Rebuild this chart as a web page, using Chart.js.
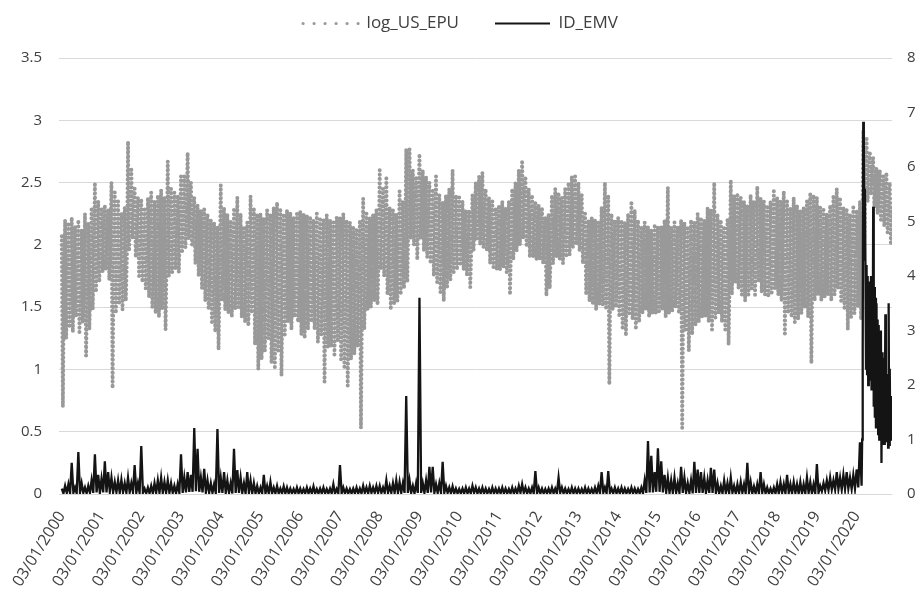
<!DOCTYPE html>
<html><head><meta charset="utf-8">
<script src="https://cdn.jsdelivr.net/npm/chart.js@4.4.1/dist/chart.umd.min.js"></script>
<style>html,body{margin:0;padding:0;background:#fff;}canvas{display:block;}</style>
</head><body>
<canvas id="c" width="921" height="597" style="width:921px;height:597px"></canvas>
<script>
// ---- data -------------------------------------------------------------
const seriesNames = ['log_US_EPU', 'ID_EMV'];
const tickYears = [2000,2001,2002,2003,2004,2005,2006,2007,2008,2009,2010,2011,2012,2013,2014,2015,2016,2017,2018,2019,2020];
const tickLabels = ['03/01/2000','03/01/2001','03/01/2002','03/01/2003','03/01/2004','03/01/2005','03/01/2006','03/01/2007','03/01/2008','03/01/2009','03/01/2010','03/01/2011','03/01/2012','03/01/2013','03/01/2014','03/01/2015','03/01/2016','03/01/2017','03/01/2018','03/01/2019','03/01/2020'];

// log_US_EPU: three readings per month (high swing, low swing, typical), Jan 2000 - Nov 2020
const epuStart = 2000;
const epuStep = 1 / 36;
const epuValues = [
// 2000
2.07,0.70,1.75, 2.20,1.25,1.70, 2.18,1.35,1.65, 2.22,1.30,1.75, 2.15,1.42,1.70, 2.20,1.30,1.65,
2.12,1.38,1.70, 2.25,1.11,1.60, 2.18,1.32,1.72, 2.30,1.48,1.85, 2.50,1.62,1.95, 2.35,1.70,2.00,
// 2001
2.30,1.78,2.05, 2.32,1.80,2.00, 2.28,1.72,1.95, 2.50,0.85,1.90, 2.42,1.45,1.85, 2.35,1.52,1.90,
2.25,1.48,1.85, 2.30,1.55,1.90, 2.83,1.95,2.35, 2.62,2.05,2.30, 2.45,1.90,2.15, 2.38,1.75,2.05,
// 2002
2.37,1.70,2.00, 2.30,1.65,1.95, 2.38,1.58,1.90, 2.42,1.50,1.85, 2.35,1.45,1.90, 2.40,1.42,1.95,
2.44,1.48,1.95, 2.38,1.32,1.90, 2.67,1.75,2.10, 2.45,1.78,2.10, 2.42,1.80,2.10, 2.40,1.78,2.10,
// 2003
2.55,1.95,2.20, 2.55,1.98,2.25, 2.74,2.05,2.35, 2.50,2.00,2.25, 2.38,1.85,2.10, 2.32,1.75,2.00,
2.28,1.65,1.95, 2.30,1.55,1.90, 2.25,1.48,1.85, 2.20,1.38,1.80, 2.18,1.30,1.75, 2.15,1.16,1.75,
// 2004
2.48,1.55,1.85, 2.30,1.48,1.80, 2.25,1.45,1.75, 2.20,1.42,1.75, 2.28,1.48,1.80, 2.38,1.50,1.85,
2.25,1.42,1.75, 2.15,1.38,1.72, 2.18,1.35,1.75, 2.39,1.45,1.80, 2.30,1.20,1.70, 2.25,1.00,1.65,
// 2005
2.25,1.08,1.65, 2.22,1.15,1.70, 2.28,1.25,1.70, 2.25,1.05,1.65, 2.30,1.02,1.65, 2.34,1.15,1.70,
2.28,0.95,1.65, 2.25,1.28,1.72, 2.28,1.38,1.75, 2.26,1.32,1.70, 2.22,1.42,1.75, 2.25,1.38,1.72,
// 2006
2.27,1.28,1.72, 2.25,1.25,1.70, 2.24,1.32,1.75, 2.23,1.38,1.72, 2.20,1.32,1.70, 2.25,1.22,1.68,
2.22,1.28,1.70, 2.20,0.90,1.65, 2.24,1.18,1.68, 2.20,1.18,1.65, 2.18,1.12,1.62, 2.22,1.22,1.65,
// 2007
2.22,1.08,1.62, 2.25,1.02,1.60, 2.20,0.87,1.55, 2.18,1.08,1.58, 2.15,1.12,1.60, 2.12,1.18,1.58,
2.20,0.53,1.60, 2.37,1.32,1.75, 2.25,1.48,1.85, 2.22,1.50,1.85, 2.25,1.55,1.90, 2.28,1.52,1.90,
// 2008
2.60,1.80,2.10, 2.45,1.75,2.05, 2.55,1.60,2.00, 2.30,1.48,1.90, 2.28,1.52,1.88, 2.25,1.55,1.90,
2.43,1.60,1.95, 2.35,1.65,1.95, 2.77,1.70,2.20, 2.77,2.05,2.35, 2.60,2.00,2.30, 2.55,1.88,2.25,
// 2009
2.73,2.05,2.35, 2.60,1.95,2.25, 2.55,1.90,2.25, 2.50,1.85,2.15, 2.45,1.75,2.10, 2.55,1.70,2.05,
2.40,1.62,2.00, 2.35,1.55,1.95, 2.40,1.65,2.00, 2.45,1.72,2.05, 2.60,1.78,2.10, 2.40,1.80,2.10,
// 2010
2.38,1.85,2.10, 2.35,1.80,2.05, 2.28,1.75,2.00, 2.28,1.66,1.98, 2.40,1.95,2.20, 2.50,2.05,2.25,
2.55,2.00,2.25, 2.58,1.98,2.25, 2.45,1.95,2.20, 2.38,1.85,2.10, 2.35,1.82,2.05, 2.30,1.80,2.05,
// 2011
2.32,1.80,2.05, 2.35,1.82,2.05, 2.30,1.78,2.00, 2.35,1.60,2.00, 2.45,1.88,2.15, 2.50,1.95,2.20,
2.60,2.00,2.30, 2.68,2.05,2.35, 2.55,2.00,2.25, 2.45,1.90,2.15, 2.40,1.90,2.15, 2.35,1.88,2.10,
// 2012
2.32,1.88,2.10, 2.30,1.85,2.05, 2.22,1.59,1.95, 2.25,1.65,1.95, 2.40,1.85,2.10, 2.45,1.90,2.15,
2.42,1.88,2.15, 2.38,1.85,2.10, 2.45,1.90,2.15, 2.50,1.92,2.20, 2.55,1.98,2.25, 2.55,2.00,2.25,
// 2013
2.50,1.95,2.20, 2.40,1.85,2.10, 2.25,1.60,1.95, 2.20,1.55,1.90, 2.22,1.52,1.88, 2.20,1.48,1.85,
2.18,1.52,1.85, 2.30,1.52,1.88, 2.50,1.48,1.90, 2.40,0.88,1.85, 2.25,1.48,1.85, 2.20,1.50,1.85,
// 2014
2.22,1.42,1.80, 2.20,1.32,1.78, 2.18,1.27,1.75, 2.25,1.45,1.80, 2.35,1.40,1.82, 2.28,1.32,1.78,
2.20,1.38,1.78, 2.15,1.45,1.80, 2.18,1.48,1.80, 2.15,1.42,1.78, 2.12,1.45,1.78, 2.15,1.45,1.78,
// 2015
2.15,1.45,1.78, 2.15,1.48,1.80, 2.20,1.42,1.80, 2.46,1.45,1.82, 2.15,1.47,1.80, 2.18,1.50,1.82,
2.15,1.45,1.78, 2.20,0.53,1.75, 2.18,1.32,1.72, 2.15,1.15,1.70, 2.20,1.28,1.75, 2.18,1.35,1.75,
// 2016
2.25,1.38,1.78, 2.22,1.42,1.80, 2.20,1.42,1.80, 2.30,1.38,1.80, 2.28,1.32,1.78, 2.50,1.40,1.85,
2.25,1.45,1.80, 2.20,1.38,1.78, 2.15,1.32,1.75, 2.20,1.20,1.72, 2.52,1.60,1.95, 2.40,1.70,2.00,
// 2017
2.40,1.65,2.00, 2.38,1.60,1.98, 2.35,1.55,1.95, 2.32,1.60,1.95, 2.40,1.65,2.00, 2.35,1.60,1.95,
2.47,1.70,2.00, 2.38,1.62,1.98, 2.35,1.60,1.95, 2.32,1.58,1.95, 2.35,1.60,1.95, 2.43,1.65,2.00,
// 2018
2.38,1.60,1.98, 2.35,1.55,1.95, 2.43,1.27,1.90, 2.35,1.45,1.90, 2.30,1.42,1.88, 2.38,1.38,1.90,
2.32,1.40,1.88, 2.28,1.45,1.88, 2.30,1.50,1.90, 2.35,1.42,1.90, 2.42,1.05,1.88, 2.40,1.55,1.95,
// 2019
2.38,1.60,1.98, 2.30,1.55,1.95, 2.28,1.58,1.95, 2.25,1.60,1.95, 2.32,1.55,1.95, 2.40,1.60,1.98,
2.45,1.65,2.00, 2.38,1.55,1.95, 2.30,1.48,1.92, 2.28,1.32,1.90, 2.25,1.42,1.90, 2.30,1.45,1.92,
// 2020
2.28,1.50,1.92, 2.35,1.40,1.95, 2.92,2.05,2.55, 2.85,2.35,2.60, 2.75,2.40,2.58, 2.70,2.30,2.52,
2.62,2.25,2.45, 2.60,2.20,2.42, 2.55,2.15,2.38, 2.58,2.10,2.35, 2.50,2.00,2.30
];

// ID_EMV: two readings per month (swing high, swing low), Jan 2000 - Feb 2020
const emvStart = 2000;
const emvStep = 1 / 24;
const emvValues = [
.10,.01,.15,.02,.18,.01,.57,.02,.12,.01,.77,.02,.20,.02,.12,.01,.15,.02,.25,.02,.73,.03,.35,.02,
.28,.03,.60,.03,.40,.04,.30,.03,.22,.03,.25,.02,.26,.03,.20,.02,.30,.03,.20,.03,.53,.02,.20,.02,
.88,.02,.10,.01,.12,.01,.15,.01,.20,.02,.25,.02,.30,.02,.22,.02,.25,.02,.20,.02,.15,.01,.18,.02,
.73,.02,.30,.03,.40,.04,.35,.04,1.21,.05,.83,.04,.30,.03,.46,.03,.25,.02,.20,.02,.18,.02,1.19,.02,
.30,.02,.40,.02,.25,.02,.20,.01,.83,.02,.44,.02,.30,.02,.20,.01,.40,.02,.25,.01,.20,.01,.15,.01,
.12,.01,.35,.01,.15,.01,.22,.01,.12,.01,.15,.01,.10,.01,.14,.01,.12,.01,.10,.01,.09,.01,.12,.01,
.10,.01,.09,.01,.12,.01,.10,.01,.14,.01,.09,.01,.10,.01,.12,.01,.09,.01,.10,.01,.18,.01,.09,.01,
.53,.01,.12,.01,.10,.01,.09,.01,.10,.01,.12,.01,.10,.01,.15,.02,.12,.01,.15,.02,.12,.02,.15,.02,
.15,.02,.12,.02,.25,.02,.15,.02,.20,.02,.25,.02,.22,.02,.20,.02,1.80,.02,.25,.02,.15,.01,.20,.02,
3.60,.02,.20,.02,.25,.02,.50,.03,.50,.02,.18,.02,.20,.02,.59,.02,.15,.02,.12,.01,.14,.01,.10,.01,
.09,.01,.10,.01,.12,.01,.10,.01,.15,.02,.12,.01,.10,.01,.12,.01,.10,.01,.09,.01,.12,.01,.10,.01,
.10,.01,.12,.01,.10,.01,.09,.01,.12,.01,.10,.01,.15,.02,.18,.02,.12,.01,.10,.01,.12,.01,.42,.01,
.12,.01,.10,.01,.09,.01,.10,.01,.12,.01,.10,.01,.30,.02,.12,.01,.10,.01,.09,.01,.12,.01,.10,.01,
.10,.01,.09,.01,.12,.01,.10,.01,.09,.01,.12,.01,.15,.01,.40,.02,.12,.01,.42,.02,.10,.01,.12,.01,
.10,.01,.12,.01,.10,.01,.09,.01,.12,.01,.10,.01,.09,.01,.12,.01,.25,.02,.97,.03,.70,.03,.40,.04,
.84,.04,.60,.03,.35,.03,.30,.02,.25,.02,.30,.02,.20,.02,.50,.02,.30,.02,.20,.02,.25,.01,.59,.02,
.45,.02,.40,.02,.30,.02,.25,.02,.48,.02,.45,.02,.20,.01,.15,.01,.25,.02,.20,.01,.30,.02,.15,.01,
.18,.01,.22,.02,.18,.01,.57,.02,.22,.01,.14,.01,.18,.01,.40,.02,.18,.01,.12,.01,.10,.01,.12,.01,
.18,.01,.22,.02,.18,.01,.35,.02,.18,.01,.22,.02,.18,.01,.22,.01,.18,.01,.30,.02,.22,.01,.18,.01,
.55,.02,.15,.05,.20,.06,.25,.07,.30,.08,.25,.08,.40,.09,.30,.08,.35,.09,.40,.10,.30,.09,.35,.10,
.45,.12,.95,.15
];

// ID_EMV during the 2020 crisis: finer readings (about every 5 days), Mar - Nov 2020
const emvCovidStart = 2020 + 3 / 24 + 1 / 72;
const emvCovidStep = 1 / 72;
const emvCovidValues = [
1.0,2.6,6.83,6.5,4.3,5.6,4.1,2.3,4.2,2.2,4.0,2.0,3.9,2.1,3.8,2.4,4.0,1.9,3.7,2.0,
5.27,1.6,3.8,1.4,3.6,1.2,3.5,1.3,3.2,1.1,3.1,1.0,2.8,1.2,3.0,0.57,2.6,0.9,2.5,1.0,
2.4,0.9,3.3,1.1,2.2,0.95,2.1,0.85,3.5,0.9,2.3,1.0,1.8,1.2
];

// ---- chart ------------------------------------------------------------
const epuPoints = epuValues.map((v, i) => ({ x: epuStart + i * epuStep, y: v }));
const emvPoints = emvValues.map((v, i) => ({ x: emvStart + i * emvStep, y: v }))
  .concat(emvCovidValues.map((v, i) => ({ x: emvCovidStart + i * emvCovidStep, y: v })));

const textColor = '#404040';
Chart.defaults.font.family = "'Open Sans', 'Liberation Sans', sans-serif";
Chart.defaults.color = textColor;

const legendGap = {
  id: 'legendGap',
  beforeLayout(chart) {
    const lg = chart.legend;
    if (lg && !lg._gapPatched) {
      const fit = lg.fit;
      lg.fit = function () { fit.call(this); this.height += 16; };
      lg._gapPatched = true;
    }
  }
};

new Chart(document.getElementById('c'), {
  type: 'line',
  data: {
    datasets: [
      {
        label: seriesNames[0], data: epuPoints, yAxisID: 'y',
        borderColor: '#999999', backgroundColor: '#999999',
        borderWidth: 4, borderDash: [0, 4.4], borderCapStyle: 'round',
        pointRadius: 0, tension: 0, fill: false, order: 2
      },
      {
        label: seriesNames[1], data: emvPoints, yAxisID: 'y1',
        borderColor: '#141414', backgroundColor: '#141414',
        borderWidth: 2.3, borderJoinStyle: 'miter',
        pointRadius: 0, tension: 0, fill: false, order: 1
      }
    ]
  },
  options: {
    responsive: false,
    animation: false,
    events: [],
    layout: { padding: { top: -21, left: 0, right: 0, bottom: 0 } },
    plugins: {
      tooltip: { enabled: false },
      legend: {
        position: 'top',
        align: 'center',
        labels: {
          boxWidth: 55, boxHeight: 0, padding: 36, color: textColor,
          font: { size: 17 },
          sort: (a, b) => a.datasetIndex - b.datasetIndex,
          generateLabels(chart) {
            const items = Chart.defaults.plugins.legend.labels.generateLabels(chart);
            items.forEach(it => {
              if (it.datasetIndex === 0) { it.lineDash = [0, 11]; it.lineWidth = 3.2; it.lineCap = 'round'; }
              else { it.lineWidth = 2; }
            });
            return items;
          }
        }
      }
    },
    scales: {
      x: {
        type: 'linear', min: 1999.93, max: 2020.89,
        afterBuildTicks: s => { s.ticks = tickYears.map(v => ({ value: v })); },
        afterFit: s => { s.height = 103; },
        grid: { display: false, drawTicks: false },
        border: { display: false },
        ticks: {
          autoSkip: false, maxRotation: 58, minRotation: 58, padding: 14,
          color: textColor, font: { size: 16 },
          callback: (v, i) => tickLabels[i]
        }
      },
      y: {
        position: 'left', min: 0, max: 3.5,
        afterFit: s => { s.width = 59; },
        grid: { color: '#d9d9d9', lineWidth: 1, drawTicks: false },
        border: { display: false },
        ticks: { stepSize: 0.5, padding: 17, color: textColor, font: { size: 15 }, callback: v => String(v) }
      },
      y1: {
        position: 'right', min: 0, max: 8,
        afterFit: s => { s.width = 29; },
        grid: { display: false, drawTicks: false },
        border: { display: false },
        ticks: { stepSize: 1, padding: 15, color: textColor, font: { size: 15 }, callback: v => String(v) }
      }
    }
  },
  plugins: [legendGap]
});
</script>
</body></html>
